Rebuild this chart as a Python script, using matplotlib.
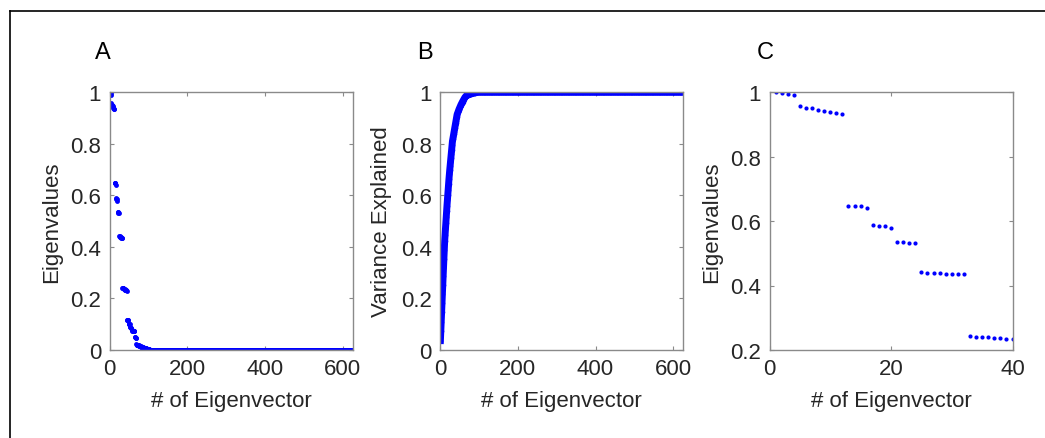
import numpy as np
import matplotlib
matplotlib.use('Agg')
import matplotlib.pyplot as plt
from matplotlib.lines import Line2D
from matplotlib.ticker import FuncFormatter

plt.rcParams['font.family'] = ['Liberation Sans', 'DejaVu Sans']

# leading eigenvalues (eigenvector 1..100), the rest of the spectrum is ~0
lead_eigs = [
    1.000, 0.998, 0.995, 0.990,
    0.956, 0.951, 0.949, 0.945, 0.942, 0.939, 0.936, 0.933,
    0.647, 0.646, 0.646, 0.641,
    0.588, 0.586, 0.584, 0.578,
    0.536, 0.536, 0.532, 0.532,
    0.441, 0.440, 0.439, 0.438, 0.437, 0.436, 0.436, 0.435,
    0.242, 0.241, 0.240, 0.239, 0.238, 0.237, 0.235, 0.234,
    0.233, 0.232, 0.231, 0.230,
    0.118, 0.117, 0.116, 0.115,
    0.102, 0.101, 0.100, 0.099,
    0.089, 0.088, 0.087, 0.086,
    0.077, 0.076, 0.075, 0.075, 0.074, 0.074, 0.073, 0.072,
    0.050, 0.049, 0.048, 0.047,
    0.022, 0.021, 0.021, 0.020,
    0.019, 0.018, 0.018, 0.017, 0.016, 0.016, 0.015, 0.014,
    0.013, 0.013, 0.012, 0.012,
    0.010, 0.010, 0.009, 0.009, 0.008, 0.008, 0.007, 0.007,
    0.006, 0.006, 0.005, 0.005, 0.004, 0.004, 0.003, 0.003,
    0.002, 0.002, 0.001, 0.001,
]
n_total = 625
n_zoom = 40

eigs = np.concatenate([lead_eigs, np.zeros(n_total - len(lead_eigs))])
idx = np.arange(1, n_total + 1)
var_explained = np.cumsum(eigs) / eigs.sum()

W, H = 1045, 439
fig = plt.figure(figsize=(W / 100, H / 100), dpi=100)

spine_col = '#8a8a8a'
text_col = '#262626'
fs = 16


def make_axes(left_px):
    ax = fig.add_axes([left_px / W, (H - 351) / H, 243 / W, 258 / H])
    for s in ax.spines.values():
        s.set_color(spine_col)
        s.set_linewidth(1.0)
    ax.tick_params(direction='in', top=True, right=True, length=3,
                   width=0.8, color=spine_col, labelcolor=text_col,
                   labelsize=fs, pad=6)
    ax.yaxis.set_major_formatter(FuncFormatter(lambda v, p: '%g' % round(v, 2)))
    ax.xaxis.set_major_formatter(FuncFormatter(lambda v, p: '%g' % v))
    return ax


# A: full eigenvalue spectrum
axA = make_axes(109.5)
axA.plot(idx, eigs, '.', color='blue', ms=7, mew=0)
axA.set_xlim(0, n_total)
axA.set_ylim(0, 1)
axA.set_xticks([0, 200, 400, 600])
axA.set_yticks([0, 0.2, 0.4, 0.6, 0.8, 1])
axA.set_xlabel('# of Eigenvector', fontsize=fs, color=text_col, labelpad=8)
axA.set_ylabel('Eigenvalues', fontsize=fs, color=text_col, labelpad=6)

# B: cumulative variance explained
axB = make_axes(440)
axB.plot(idx, var_explained, '.-', color='blue', lw=5, ms=8, mew=0)
axB.set_xlim(0, n_total)
axB.set_ylim(0, 1)
axB.set_xticks([0, 200, 400, 600])
axB.set_yticks([0, 0.2, 0.4, 0.6, 0.8, 1])
axB.set_xlabel('# of Eigenvector', fontsize=fs, color=text_col, labelpad=8)
axB.set_ylabel('Variance Explained', fontsize=fs, color=text_col, labelpad=6)

# C: first 40 eigenvalues
axC = make_axes(769.5)
axC.plot(idx[:n_zoom], eigs[:n_zoom], '.', color='blue', ms=6, mew=0)
axC.set_xlim(0, n_zoom)
axC.set_ylim(0.2, 1)
axC.set_xticks([0, 20, 40])
axC.set_yticks([0.2, 0.4, 0.6, 0.8, 1])
axC.set_xlabel('# of Eigenvector', fontsize=fs, color=text_col, labelpad=8)
axC.set_ylabel('Eigenvalues', fontsize=fs, color=text_col, labelpad=6)

for letter, x_px in [('A', 103), ('B', 425), ('C', 765)]:
    fig.text(x_px / W, 1 - 53 / H, letter, fontsize=17, ha='center', va='center',
             family=['Liberation Sans Narrow', 'Liberation Sans', 'DejaVu Sans'])

# frame lines along the top and left edge
fx, fy = 9.5 / W, 1 - 11.5 / H
fig.add_artist(Line2D([fx, 1], [fy, fy], color='black', lw=1.2, transform=fig.transFigure))
fig.add_artist(Line2D([fx, fx], [0, fy], color='black', lw=1.2, transform=fig.transFigure))

fig.savefig('out.png', dpi=100)
